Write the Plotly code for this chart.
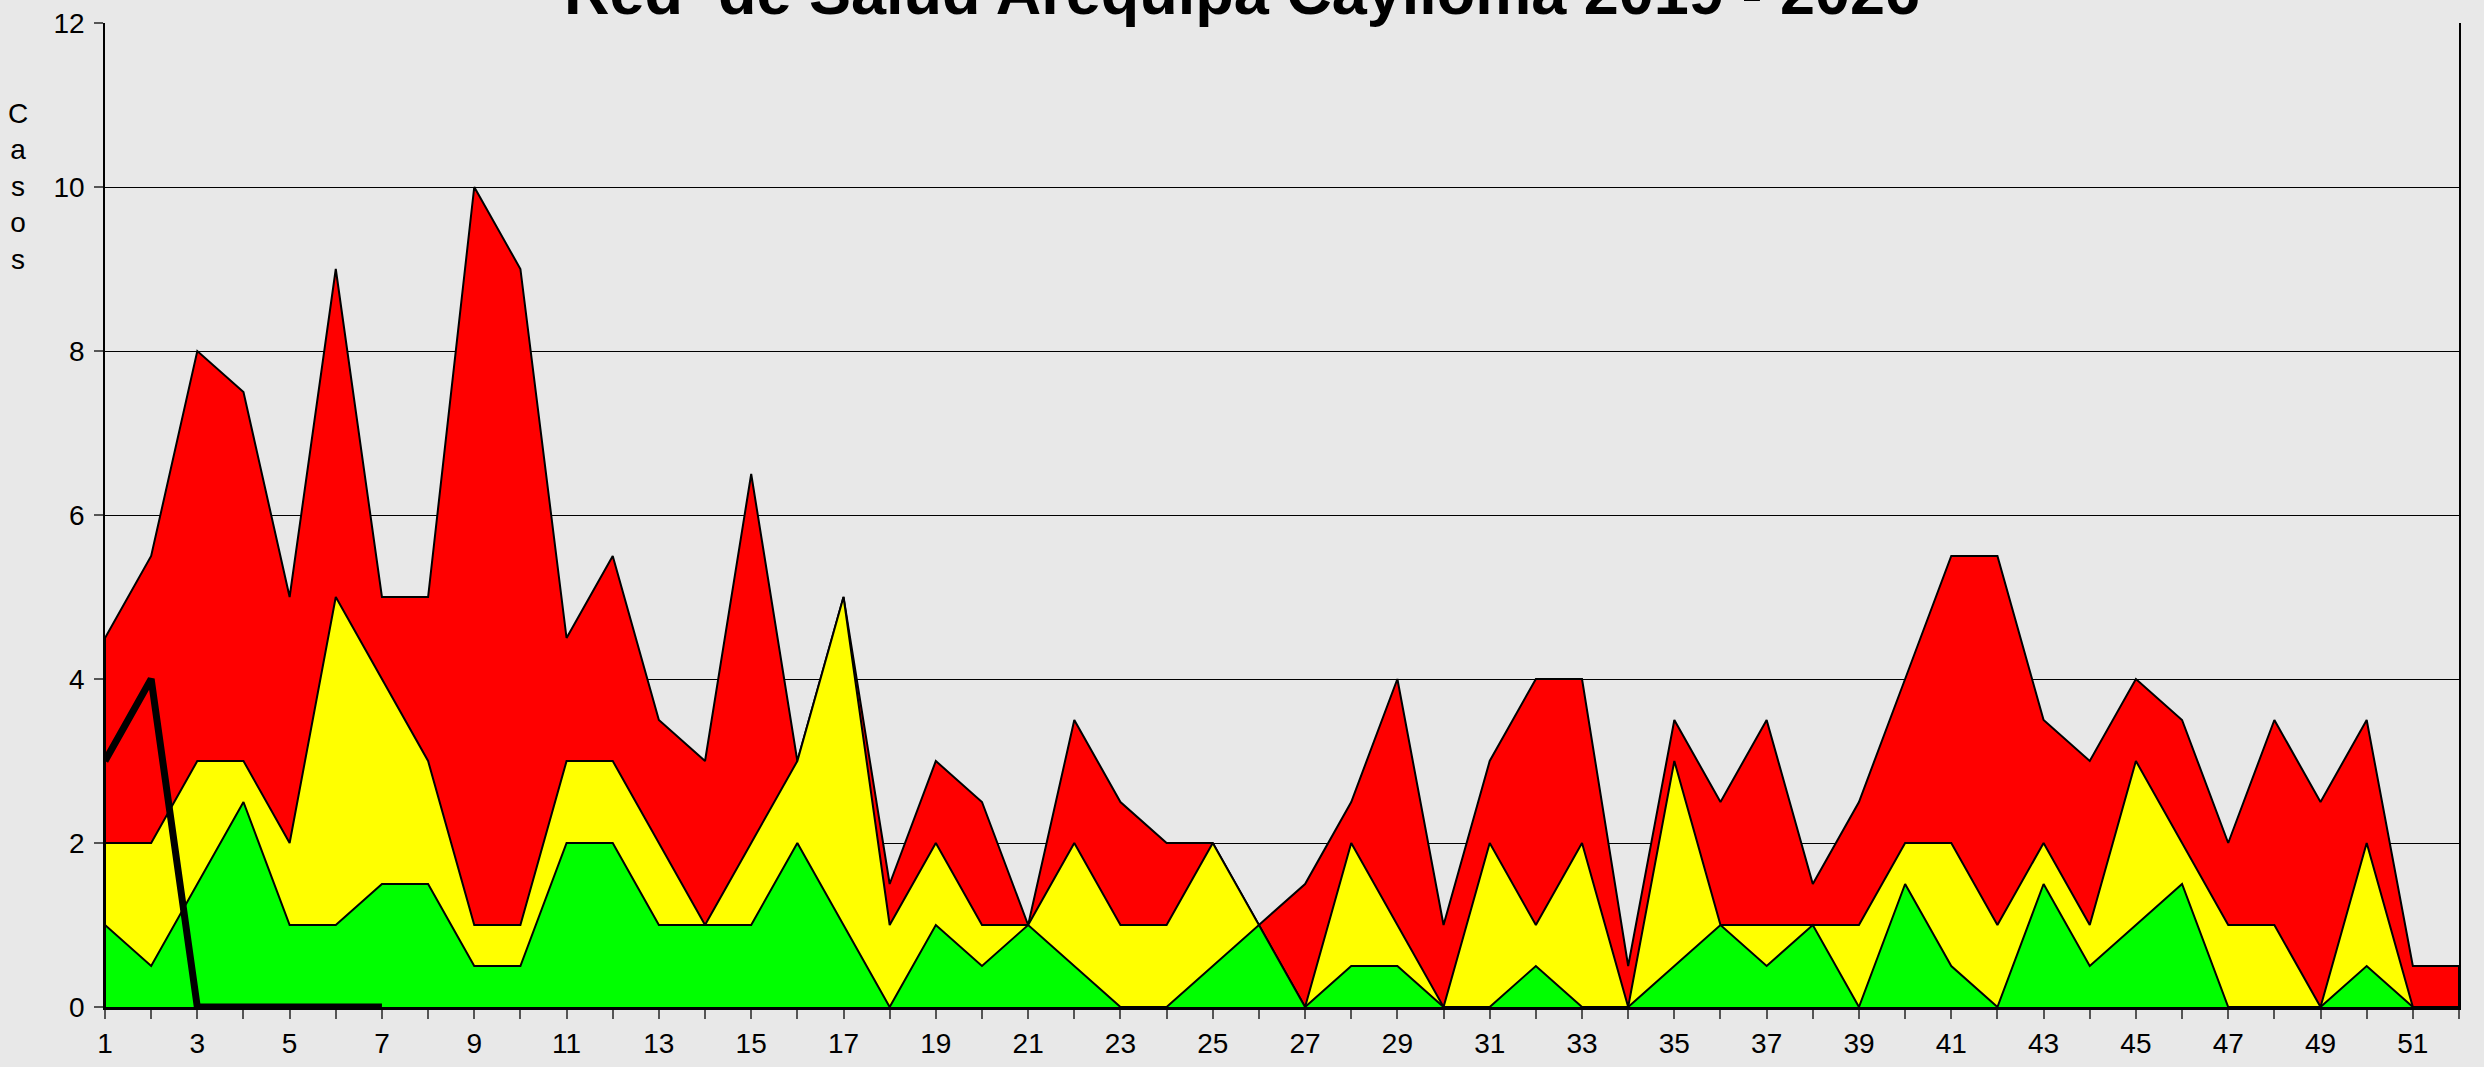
import plotly.graph_objects as go

semanas = list(range(1, 53))

# Límite superior de cada zona del canal endémico (valores acumulados)
zona_exito = [1, 0.5, 1.5, 2.5, 1, 1, 1.5, 1.5, 0.5, 0.5, 2, 2, 1, 1, 1, 2, 1, 0, 1, 0.5,
              1, 0.5, 0, 0, 0.5, 1, 0, 0.5, 0.5, 0, 0, 0.5, 0, 0, 0.5, 1, 0.5, 1, 0, 1.5,
              0.5, 0, 1.5, 0.5, 1, 1.5, 0, 0, 0, 0.5, 0, 0]
zona_seguridad = [2, 2, 3, 3, 2, 5, 4, 3, 1, 1, 3, 3, 2, 1, 2, 3, 5, 1, 2, 1,
                  1, 2, 1, 1, 2, 1, 0, 2, 1, 0, 2, 1, 2, 0, 3, 1, 1, 1, 1, 2,
                  2, 1, 2, 1, 3, 2, 1, 1, 0, 2, 0, 0]
zona_alarma = [4.5, 5.5, 8, 7.5, 5, 9, 5, 5, 10, 9, 4.5, 5.5, 3.5, 3, 6.5, 3, 5, 1.5, 3, 2.5,
               1, 3.5, 2.5, 2, 2, 1, 1.5, 2.5, 4, 1, 3, 4, 4, 0.5, 3.5, 2.5, 3.5, 1.5, 2.5, 4,
               5.5, 5.5, 3.5, 3, 4, 3.5, 2, 3.5, 2.5, 3.5, 0.5, 0.5]
semanas_2026 = [1, 2, 3, 4, 5, 6, 7]
casos_2026 = [3, 4, 0, 0, 0, 0, 0]

x_tickvals = semanas
x_ticktext = [str(s) if s % 2 == 1 else "" for s in semanas]
y_tickvals = [0, 2, 4, 6, 8, 10, 12]

titulo = "Red\u00a0 de Salud Arequipa Caylloma 2019 - 2026"
FONT = "Liberation Sans, Arial, sans-serif"
BG = "#E8E8E8"

fig = go.Figure()


def zona(valores, color, nombre):
    xs = [semanas[0]] + semanas + [semanas[-1]]
    ys = [0] + valores + [0]
    fig.add_trace(go.Scatter(
        x=xs, y=ys, mode="lines", fill="toself", fillcolor=color,
        line=dict(color="black", width=2), name=nombre, showlegend=False,
        hoverinfo="skip"))


zona(zona_alarma, "#FF0000", "Alarma")
zona(zona_seguridad, "#FFFF00", "Seguridad")
zona(zona_exito, "#00FF00", "Éxito")

fig.add_trace(go.Scatter(
    x=semanas_2026, y=casos_2026, mode="lines",
    line=dict(color="black", width=7), name="2026", showlegend=False))

fig.update_layout(
    width=2484, height=1067,
    paper_bgcolor=BG, plot_bgcolor=BG,
    margin=dict(l=105, r=25, t=23, b=60, autoexpand=False),
    font=dict(family=FONT, size=28, color="black"),
    showlegend=False,
    title=dict(text="<b>" + titulo + "</b>", font=dict(family=FONT, size=63, color="black"),
               x=0.5, xref="container", xanchor="center",
               y=1 - 13.5 / 1067, yref="container", yanchor="bottom"),
    xaxis=dict(range=[1, 52], tickmode="array", tickvals=x_tickvals, ticktext=x_ticktext,
               showgrid=False, zeroline=False, showline=True, linecolor="black", linewidth=3,
               ticks="outside", ticklen=9, tickwidth=1.5, tickcolor="#555555",
               tickfont=dict(size=28, color="black"), mirror=False),
    yaxis=dict(range=[0, 12], tickmode="array", tickvals=y_tickvals,
               showgrid=True, gridcolor="black", gridwidth=1,
               zeroline=False, showline=True, linecolor="black", linewidth=1.5, mirror=True,
               ticks="outside", ticklen=9, tickwidth=1.5, tickcolor="#555555",
               ticklabelstandoff=4,
               tickfont=dict(size=28, color="black")),
)

fig.add_annotation(
    text="C<br>a<br>s<br>o<br>s", xref="paper", yref="paper",
    x=-(105 - 18) / 2354, y=(1007.4 - 187) / 984, xanchor="center", yanchor="middle",
    showarrow=False, font=dict(family=FONT, size=28, color="black"), align="center")

fig.write_html("out.html", config={"displayModeBar": False},
               post_script="document.body.style.margin='0';document.body.style.padding='0';")
